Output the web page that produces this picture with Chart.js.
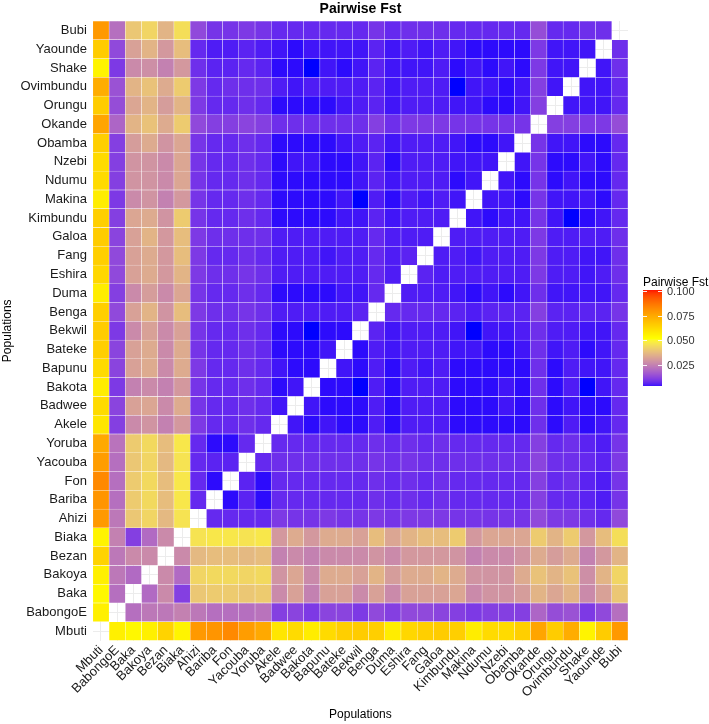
<!DOCTYPE html>
<html>
<head>
<meta charset="utf-8">
<title>Pairwise Fst</title>
<script src="https://cdn.jsdelivr.net/npm/chart.js@4.4.1/dist/chart.umd.min.js"></script>
<style>
  html, body { margin: 0; padding: 0; background: #fff; }
  canvas { display: block; }
</style>
</head>
<body>
<canvas id="fstChart" width="709" height="724"></canvas>
<script>
const pops = ['Mbuti', 'BabongoE', 'Baka', 'Bakoya', 'Bezan', 'Biaka', 'Ahizi', 'Bariba', 'Fon', 'Yacouba',
    'Yoruba', 'Akele', 'Badwee', 'Bakota', 'Bapunu', 'Bateke', 'Bekwil', 'Benga', 'Duma', 'Eshira', 'Fang',
    'Galoa', 'Kimbundu', 'Makina', 'Ndumu', 'Nzebi', 'Obamba', 'Okande', 'Orungu', 'Ovimbundu', 'Shake',
    'Yaounde', 'Bubi'];

// upper triangle: each array holds Fst against the populations that come after it in pops
const fstMbuti = [0.056, 0.054, 0.056, 0.064, 0.055, 0.079, 0.080, 0.083, 0.078, 0.075, 0.059, 0.062, 0.057, 0.062, 0.065, 0.066,
    0.065, 0.057, 0.063, 0.065, 0.066, 0.065, 0.057, 0.062, 0.062, 0.065, 0.076, 0.066, 0.074, 0.055, 0.066, 0.079];
const fstBabongoE = [0.021, 0.023, 0.023, 0.025, 0.023, 0.021, 0.021, 0.021, 0.022, 0.011, 0.012, 0.010, 0.012, 0.012, 0.010,
    0.013, 0.011, 0.013, 0.013, 0.012, 0.011, 0.010, 0.011, 0.011, 0.011, 0.019, 0.014, 0.015, 0.010, 0.013, 0.021];
const fstBaka = [0.020, 0.027, 0.011, 0.040, 0.041, 0.041, 0.040, 0.041, 0.027, 0.032, 0.025, 0.032, 0.032, 0.027, 0.032,
    0.027, 0.032, 0.032, 0.032, 0.033, 0.027, 0.029, 0.029, 0.031, 0.036, 0.033, 0.036, 0.027, 0.032, 0.040];
const fstBakoya = [0.027, 0.020, 0.043, 0.044, 0.044, 0.043, 0.044, 0.029, 0.033, 0.027, 0.034, 0.034, 0.032, 0.036, 0.031,
    0.034, 0.034, 0.036, 0.034, 0.029, 0.029, 0.029, 0.034, 0.039, 0.036, 0.039, 0.028, 0.036, 0.043];
const fstBezan = [0.027, 0.037, 0.038, 0.038, 0.037, 0.038, 0.025, 0.027, 0.025, 0.027, 0.027, 0.027, 0.029, 0.027, 0.030,
    0.030, 0.030, 0.029, 0.025, 0.027, 0.027, 0.029, 0.034, 0.031, 0.034, 0.025, 0.030, 0.036];
const fstBiaka = [0.046, 0.047, 0.047, 0.046, 0.047, 0.030, 0.034, 0.030, 0.034, 0.034, 0.032, 0.038, 0.033, 0.036, 0.038,
    0.038, 0.041, 0.030, 0.033, 0.033, 0.033, 0.041, 0.036, 0.041, 0.030, 0.038, 0.045];
const fstAhizi = [0.007, 0.007, 0.007, 0.007, 0.010, 0.009, 0.009, 0.010, 0.009, 0.009, 0.010, 0.009, 0.010, 0.010, 0.010,
    0.009, 0.009, 0.009, 0.009, 0.009, 0.013, 0.010, 0.010, 0.008, 0.007, 0.013];
const fstBariba = [0.003, 0.006, 0.003, 0.007, 0.007, 0.007, 0.007, 0.007, 0.007, 0.008, 0.007, 0.008, 0.007, 0.008, 0.007,
    0.007, 0.007, 0.007, 0.007, 0.011, 0.007, 0.007, 0.006, 0.005, 0.009];
const fstFon = [0.006, 0.003, 0.007, 0.007, 0.007, 0.007, 0.007, 0.007, 0.008, 0.007, 0.008, 0.007, 0.008, 0.007, 0.007,
    0.007, 0.007, 0.007, 0.011, 0.007, 0.008, 0.006, 0.005, 0.009];
const fstYacouba = [0.007, 0.008, 0.008, 0.008, 0.008, 0.008, 0.008, 0.009, 0.008, 0.009, 0.008, 0.008, 0.008, 0.008, 0.008,
    0.008, 0.008, 0.012, 0.008, 0.008, 0.007, 0.006, 0.010];
const fstYoruba = [0.007, 0.007, 0.007, 0.007, 0.007, 0.007, 0.008, 0.007, 0.008, 0.007, 0.008, 0.007, 0.007, 0.007, 0.007,
    0.007, 0.011, 0.007, 0.008, 0.006, 0.005, 0.009];
const fstAkele = [0.004, 0.003, 0.004, 0.003, 0.003, 0.005, 0.003, 0.005, 0.005, 0.005, 0.003, 0.003, 0.003, 0.003, 0.003,
    0.008, 0.003, 0.005, 0.003, 0.004, 0.007];
const fstBadwee = [0.004, 0.003, 0.003, 0.003, 0.005, 0.003, 0.005, 0.005, 0.005, 0.003, 0.003, 0.003, 0.004, 0.003, 0.008,
    0.003, 0.004, 0.003, 0.003, 0.007];
const fstBakota = [0.003, 0.003, 0.002, 0.005, 0.003, 0.005, 0.005, 0.005, 0.003, 0.003, 0.003, 0.004, 0.003, 0.008, 0.003,
    0.005, 0.002, 0.004, 0.007];
const fstBapunu = [0.004, 0.003, 0.005, 0.003, 0.005, 0.004, 0.005, 0.003, 0.003, 0.003, 0.003, 0.003, 0.008, 0.003, 0.005,
    0.004, 0.004, 0.007];
const fstBateke = [0.003, 0.005, 0.004, 0.005, 0.005, 0.005, 0.004, 0.004, 0.003, 0.003, 0.004, 0.008, 0.004, 0.005, 0.003,
    0.004, 0.007];
const fstBekwil = [0.006, 0.004, 0.005, 0.005, 0.005, 0.004, 0.002, 0.004, 0.004, 0.005, 0.008, 0.005, 0.005, 0.004, 0.004, 0.007];
const fstBenga = [0.007, 0.007, 0.007, 0.007, 0.006, 0.005, 0.006, 0.006, 0.006, 0.011, 0.006, 0.006, 0.006, 0.006, 0.009];
const fstDuma = [0.005, 0.005, 0.005, 0.004, 0.003, 0.004, 0.003, 0.004, 0.008, 0.004, 0.004, 0.004, 0.004, 0.007];
const fstEshira = [0.006, 0.005, 0.005, 0.005, 0.005, 0.005, 0.005, 0.010, 0.005, 0.005, 0.004, 0.005, 0.008];
const fstFang = [0.005, 0.005, 0.004, 0.005, 0.005, 0.005, 0.010, 0.005, 0.005, 0.004, 0.004, 0.008];
const fstGaloa = [0.005, 0.005, 0.005, 0.005, 0.005, 0.010, 0.005, 0.005, 0.005, 0.005, 0.008];
const fstKimbundu = [0.004, 0.003, 0.004, 0.004, 0.009, 0.004, 0.001, 0.003, 0.004, 0.007];
const fstMakina = [0.004, 0.004, 0.003, 0.009, 0.004, 0.004, 0.004, 0.003, 0.007];
const fstNdumu = [0.004, 0.003, 0.009, 0.003, 0.004, 0.003, 0.003, 0.007];
const fstNzebi = [0.004, 0.009, 0.003, 0.003, 0.004, 0.003, 0.007];
const fstObamba = [0.009, 0.004, 0.004, 0.003, 0.003, 0.007];
const fstOkande = [0.011, 0.011, 0.010, 0.010, 0.014];
const fstOrungu = [0.004, 0.004, 0.004, 0.007];
const fstOvimbundu = [0.004, 0.004, 0.007];
const fstShake = [0.004, 0.008];
const fstYaounde = [0.008];

const legendTicks = [0.025, 0.050, 0.075, 0.100];

const upperRows = [fstMbuti, fstBabongoE, fstBaka, fstBakoya, fstBezan, fstBiaka, fstAhizi, fstBariba, fstFon, fstYacouba,
    fstYoruba, fstAkele, fstBadwee, fstBakota, fstBapunu, fstBateke, fstBekwil, fstBenga, fstDuma, fstEshira, fstFang,
    fstGaloa, fstKimbundu, fstMakina, fstNdumu, fstNzebi, fstObamba, fstOkande, fstOrungu, fstOvimbundu, fstShake,
    fstYaounde, []];

function fst(i, j) {
    if (i === j) return null;
    const a = Math.min(i, j), b = Math.max(i, j);
    return upperRows[a][b - a - 1];
}

// colour scale: blue -> yellow -> red, interpolated in Lab like ggplot
const SCALE_LOW = 0.002, SCALE_HIGH = 0.102;

function toLin(c) { c /= 255; return c <= 0.04045 ? c / 12.92 : Math.pow((c + 0.055) / 1.055, 2.4); }
function toSrgb(c) { c = c <= 0.0031308 ? 12.92 * c : 1.055 * Math.pow(c, 1 / 2.4) - 0.055; return Math.round(Math.min(1, Math.max(0, c)) * 255); }
function rgbToLab(rgb) {
    const r = toLin(rgb[0]), g = toLin(rgb[1]), b = toLin(rgb[2]);
    const x = (0.4124 * r + 0.3576 * g + 0.1805 * b) / 0.95047;
    const y = (0.2126 * r + 0.7152 * g + 0.0722 * b);
    const z = (0.0193 * r + 0.1192 * g + 0.9505 * b) / 1.08883;
    const f = t => t > 0.008856 ? Math.cbrt(t) : 7.787 * t + 16 / 116;
    return [116 * f(y) - 16, 500 * (f(x) - f(y)), 200 * (f(y) - f(z))];
}
function labToRgb(lab) {
    const fy = (lab[0] + 16) / 116, fx = fy + lab[1] / 500, fz = fy - lab[2] / 200;
    const inv = t => t * t * t > 0.008856 ? t * t * t : (t - 16 / 116) / 7.787;
    const x = inv(fx) * 0.95047, y = inv(fy), z = inv(fz) * 1.08883;
    const r = 3.2406 * x - 1.5372 * y - 0.4986 * z;
    const g = -0.9689 * x + 1.8758 * y + 0.0415 * z;
    const b = 0.0557 * x - 0.2040 * y + 1.0570 * z;
    return [toSrgb(r), toSrgb(g), toSrgb(b)];
}
const labBlue = rgbToLab([0, 0, 255]), labYellow = rgbToLab([255, 255, 0]), labRed = rgbToLab([255, 0, 0]);

function fillColor(v) {
    let t = (v - SCALE_LOW) / (SCALE_HIGH - SCALE_LOW);
    t = Math.min(1, Math.max(0, t));
    let a, b, f;
    if (t < 0.5) { a = labBlue; b = labYellow; f = t / 0.5; }
    else { a = labYellow; b = labRed; f = (t - 0.5) / 0.5; }
    const lab = [0, 1, 2].map(k => a[k] + (b[k] - a[k]) * f);
    const rgb = labToRgb(lab);
    return 'rgb(' + rgb.join(',') + ')';
}

// one dataset per row of tiles (floating bars from r to r+1)
const datasets = pops.map((rowName, r) => {
    const values = pops.map((colName, c) => fst(r, c));
    return {
        label: rowName,
        data: values.map(v => v === null ? null : [r, r + 1]),
        backgroundColor: values.map(v => v === null ? 'rgba(0,0,0,0)' : fillColor(v)),
        borderColor: 'rgba(255,255,255,0.45)',
        borderWidth: 0.5,
        borderSkipped: false,
        barPercentage: 1,
        categoryPercentage: 1,
        grouped: false
    };
});

const FONT = "'Liberation Sans', Arial, Helvetica, sans-serif";

const extrasPlugin = {
    id: 'extras',
    afterDraw(chart) {
        const ctx = chart.ctx;
        const area = chart.chartArea;
        ctx.save();
        // title
        ctx.fillStyle = '#000';
        ctx.font = 'bold 14px ' + FONT;
        ctx.textAlign = 'center';
        ctx.textBaseline = 'middle';
        ctx.fillText('Pairwise Fst', (area.left + area.right) / 2, 9);

        // colour bar
        const barX = 643, barW = 19, barTop = 290, barBottom = 386;
        const legMin = 0.0035, legMax = 0.1015;
        const yOf = v => barBottom - (v - legMin) / (legMax - legMin) * (barBottom - barTop);
        for (let y = barTop; y < barBottom; y++) {
            const v = legMin + (barBottom - y - 0.5) / (barBottom - barTop) * (legMax - legMin);
            ctx.fillStyle = fillColor(v);
            ctx.fillRect(barX, y, barW, 1);
        }
        ctx.strokeStyle = 'rgba(255,255,255,0.9)';
        ctx.lineWidth = 1;
        ctx.font = '11px ' + FONT;
        ctx.textAlign = 'left';
        ctx.textBaseline = 'middle';
        legendTicks.forEach(v => {
            const y = Math.round(yOf(v)) + 0.5;
            ctx.beginPath();
            ctx.moveTo(barX, y); ctx.lineTo(barX + 4, y);
            ctx.moveTo(barX + barW - 4, y); ctx.lineTo(barX + barW, y);
            ctx.stroke();
            ctx.fillStyle = '#333';
            ctx.fillText(v.toFixed(3), barX + barW + 5, y);
        });
        ctx.fillStyle = '#000';
        ctx.font = '12px ' + FONT;
        ctx.textBaseline = 'alphabetic';
        ctx.fillText('Pairwise Fst', barX, 286);
        ctx.restore();
    }
};

new Chart(document.getElementById('fstChart'), {
    type: 'bar',
    data: { labels: pops, datasets: datasets },
    options: {
        responsive: false,
        animation: false,
        layout: { padding: { top: 21, right: 81, left: 0, bottom: 2 } },
        plugins: {
            legend: { display: false },
            tooltip: { enabled: false },
            title: { display: false }
        },
        scales: {
            x: {
                type: 'category',
                offset: true,
                grid: { color: '#ececec', offset: false, drawTicks: false },
                border: { display: false },
                ticks: {
                    autoSkip: false,
                    maxRotation: 45,
                    minRotation: 45,
                    padding: 2,
                    color: '#1a1a1a',
                    font: { family: FONT, size: 13 }
                },
                title: {
                    display: true,
                    text: 'Populations',
                    color: '#000',
                    font: { family: FONT, size: 12 },
                    padding: { top: 5, bottom: 0 }
                }
            },
            y: {
                type: 'linear',
                min: 0,
                max: pops.length,
                grid: { color: '#ececec', drawTicks: false },
                border: { display: false },
                afterBuildTicks: axis => {
                    axis.ticks = pops.map((p, i) => ({ value: i + 0.5 }));
                },
                ticks: {
                    autoSkip: false,
                    padding: 6,
                    color: '#1a1a1a',
                    font: { family: FONT, size: 13 },
                    callback: v => pops[Math.floor(v)]
                },
                title: {
                    display: true,
                    text: 'Populations',
                    color: '#000',
                    font: { family: FONT, size: 12 },
                    padding: { top: 0, bottom: 0 }
                }
            }
        }
    },
    plugins: [extrasPlugin]
});
</script>
</body>
</html>
